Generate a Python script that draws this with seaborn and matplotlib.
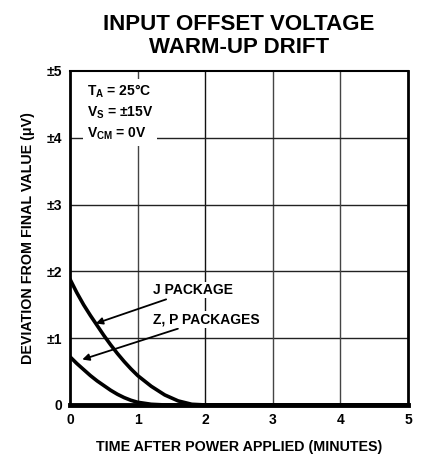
import matplotlib
matplotlib.use("Agg")
import matplotlib.pyplot as plt
import seaborn as sns
import pandas as pd

sns.set_theme(style="white")
plt.rcParams['font.family'] = ['Liberation Sans', 'DejaVu Sans']
plt.rcParams['text.color'] = 'black'
plt.rcParams['axes.labelcolor'] = 'black'
plt.rcParams['xtick.color'] = 'black'
plt.rcParams['ytick.color'] = 'black'

title = "INPUT OFFSET VOLTAGE\nWARM-UP DRIFT"
xlabel = "TIME AFTER POWER APPLIED (MINUTES)"
ylabel = "DEVIATION FROM FINAL VALUE (\u03bcV)"
xticks = [0, 1, 2, 3, 4, 5]
xtick_labels = ["0", "1", "2", "3", "4", "5"]
yticks = [0, 1, 2, 3, 4, 5]
ytick_labels = ["0", "\u00b11", "\u00b12", "\u00b13", "\u00b14", "\u00b15"]

j_time = [0.0, 0.1, 0.2, 0.3, 0.4, 0.5, 0.6, 0.7, 0.8, 0.9, 1.0, 1.2, 1.4, 1.6, 1.8, 2.0, 3.0, 4.0, 5.0]
j_dev = [1.88, 1.68, 1.5, 1.34, 1.19, 1.04, 0.9, 0.77, 0.65, 0.54, 0.44, 0.28, 0.15, 0.06, 0.01, 0.0, 0.0, 0.0, 0.0]
zp_time = [0.0, 0.1, 0.2, 0.3, 0.4, 0.5, 0.6, 0.7, 0.8, 0.9, 1.0, 1.2, 1.4, 1.6, 2.0, 3.0, 4.0, 5.0]
zp_dev = [0.72, 0.62, 0.53, 0.44, 0.36, 0.29, 0.22, 0.16, 0.11, 0.07, 0.04, 0.01, 0.0, 0.0, 0.0, 0.0, 0.0, 0.0]

df = pd.concat([
    pd.DataFrame({"t": j_time, "v": j_dev, "pkg": "J PACKAGE"}),
    pd.DataFrame({"t": zp_time, "v": zp_dev, "pkg": "Z, P PACKAGES"}),
])

fig = plt.figure(figsize=(4.3, 4.55), dpi=100)
ax = fig.add_axes([0.163, 0.110, 0.786, 0.734])

for v in [1, 2, 3, 4]:
    ax.axvline(v, color="#444444" if v != 2 else "#111111", lw=1.0, zorder=1)
    ax.axhline(v, color="#222222", lw=1.0, zorder=1)

sns.lineplot(data=df, x="t", y="v", hue="pkg", palette=["black", "black"],
             lw=2.6, legend=False, ax=ax, zorder=3)

ax.set_xlim(0, 5)
ax.set_ylim(0, 5)
ax.set_xticks(xticks)
ax.set_xticklabels(xtick_labels, fontweight="bold", fontsize=10)
ax.set_yticks(yticks)
ax.set_yticklabels(ytick_labels, fontweight="bold", fontsize=10)
ax.tick_params(axis="both", length=0, pad=6)
ax.set_xlabel(xlabel, fontweight="bold", fontsize=10.3, labelpad=9)
ax.set_ylabel(ylabel, fontweight="bold", fontsize=10.3, labelpad=8)
ax.set_title(title, fontweight="bold", fontsize=16, pad=13, linespacing=1.1)

for side, lw in [("left", 2.0), ("bottom", 3.5), ("top", 1.5), ("right", 2.0)]:
    ax.spines[side].set_visible(True)
    ax.spines[side].set_color("black")
    ax.spines[side].set_linewidth(lw)

ax.text(0.25, 4.82, "T$_\\mathregular{A}$ = 25\u00b0C\nV$_\\mathregular{S}$ = \u00b115V\nV$_\\mathregular{CM}$ = 0V",
        fontsize=10, fontweight="bold", va="top", ha="left", linespacing=1.35,
        bbox=dict(facecolor="white", edgecolor="none", pad=3), zorder=4)

ax.annotate("J PACKAGE", xy=(0.38, 1.22), xytext=(1.23, 1.72),
            fontsize=10, fontweight="bold", va="center", ha="left",
            bbox=dict(facecolor="white", edgecolor="none", pad=1),
            arrowprops=dict(arrowstyle="-|>", color="black", lw=1.3, shrinkA=2, shrinkB=0),
            zorder=5)
ax.annotate("Z, P PACKAGES", xy=(0.18, 0.68), xytext=(1.23, 1.28),
            fontsize=10, fontweight="bold", va="center", ha="left",
            bbox=dict(facecolor="white", edgecolor="none", pad=1),
            arrowprops=dict(arrowstyle="-|>", color="black", lw=1.3, shrinkA=2, shrinkB=0),
            zorder=5)

fig.savefig("out.png", dpi=100)
